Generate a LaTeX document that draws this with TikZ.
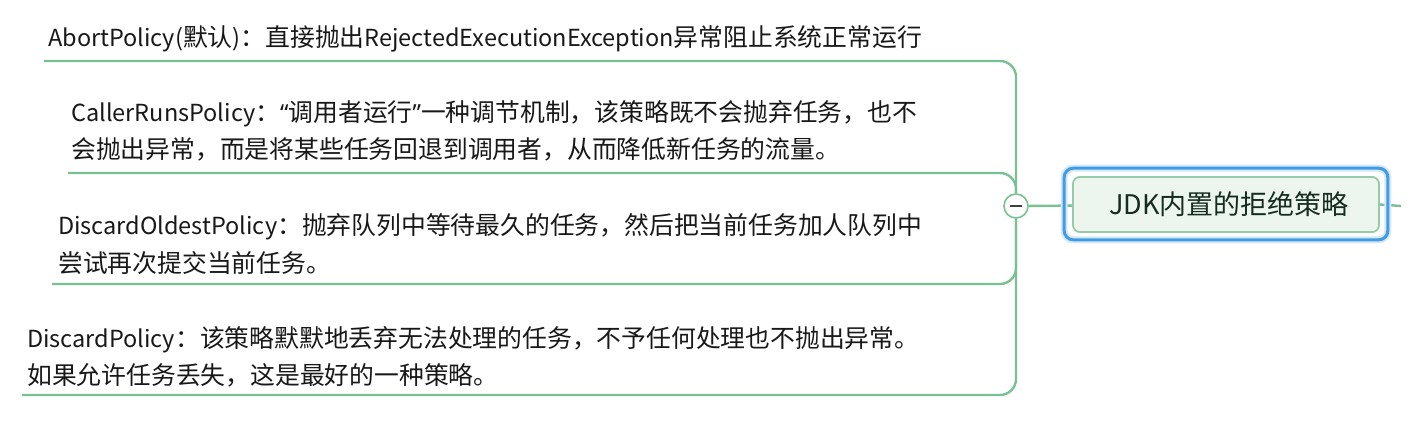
\documentclass[tikz,border=0pt]{standalone}
\usepackage{fontspec}
\setmainfont{Noto Sans CJK SC}
\newfontfamily\qfont{Noto Sans}
\usetikzlibrary{calc}
\definecolor{brc}{RGB}{122,192,146}
\definecolor{rootfill}{RGB}{237,245,239}
\definecolor{rootline}{RGB}{150,203,168}
\definecolor{selblue}{RGB}{66,156,226}
\definecolor{glow}{RGB}{212,232,248}
\definecolor{txtc}{RGB}{24,24,24}
\newcommand\lt[1]{{\fontsize{23.5}{37}\selectfont #1}}
\newcommand\nq[1]{{\qfont\fontsize{23.5}{37}\selectfont #1}}
\begin{document}
\begin{tikzpicture}[x=1pt,y=-1pt,
  txt/.style={anchor=base west, inner sep=0pt, align=left, font=\fontsize{24.8}{37}\selectfont, text=txtc},
  branch/.style={draw=brc, line width=2.4pt, rounded corners=16pt},
  rootbox/.style={draw=rootline, line width=1.6pt, fill=rootfill, rounded corners=7pt,
    minimum width=306pt, minimum height=55pt, inner sep=0pt,
    font=\fontsize{27}{30}\selectfont, text={rgb,255:red,22;green,44;blue,32}},
  collapse/.style={circle, draw=brc, fill=white, line width=1.6pt, minimum size=24pt, inner sep=0pt}
]
\useasboundingbox (0,0) rectangle (1424,422);

% texts (base anchor = baseline of the last line)
\node[txt] (abort) at (48,47) {\lt{AbortPolicy(}默认\lt{)}：直接抛出\lt{RejectedExecutionException}异常阻止系统正常运行};
\node[txt] (caller) at (71,159) {\lt{CallerRunsPolicy}：\nq{“}调用者运行\nq{”}一种调节机制，该策略既不会抛弃任务，也不\\会抛出异常，而是将某些任务回退到调用者，从而降低新任务的流量。};
\node[txt] (oldest) at (58,272) {\lt{DiscardOldestPolicy}：抛弃队列中等待最久的任务，然后把当前任务加人队列中\\尝试再次提交当前任务。};
\node[txt] (discard) at (27,384) {\lt{DiscardPolicy}：该策略默默地丢弃无法处理的任务，不予任何处理也不抛出异常。\\如果允许任务丢失，这是最好的一种策略。};

% collapse circle and root
\node[collapse] (col) at (1016,206) {};
\node[rootbox] (root) at (1226,204.5) {\hspace*{6pt}JDK内置的拒绝策略};
\coordinate (stub) at (1401,206);

% underline branches
\coordinate (aL) at (44,61);
\coordinate (bL) at (68,173);
\coordinate (cL) at (52,284);
\coordinate (dL) at (22,395);
\draw[branch] (aL) -| (col);
\draw[branch] (bL) -| (col);
\draw[branch] (cL) -| (col);
\draw[branch] (dL) -| (col);

% connectors
\draw[branch] (col) -- (root);
\draw[branch] (root.east) -- (stub);

% selection frame around root
\draw[glow, line width=7pt, rounded corners=9pt] ($(root.north west)+(-8,-8)$) rectangle ($(root.south east)+(8,7)$);
\draw[selblue, line width=3pt, rounded corners=9pt] ($(root.north west)+(-8,-8)$) rectangle ($(root.south east)+(8,7)$);
\node[rootbox] at (root) {\hspace*{6pt}JDK内置的拒绝策略};

% minus sign
\draw[line width=2pt, black!75] ($(col.center)+(-6,0)$) -- ($(col.center)+(6,0)$);
\end{tikzpicture}
\end{document}
